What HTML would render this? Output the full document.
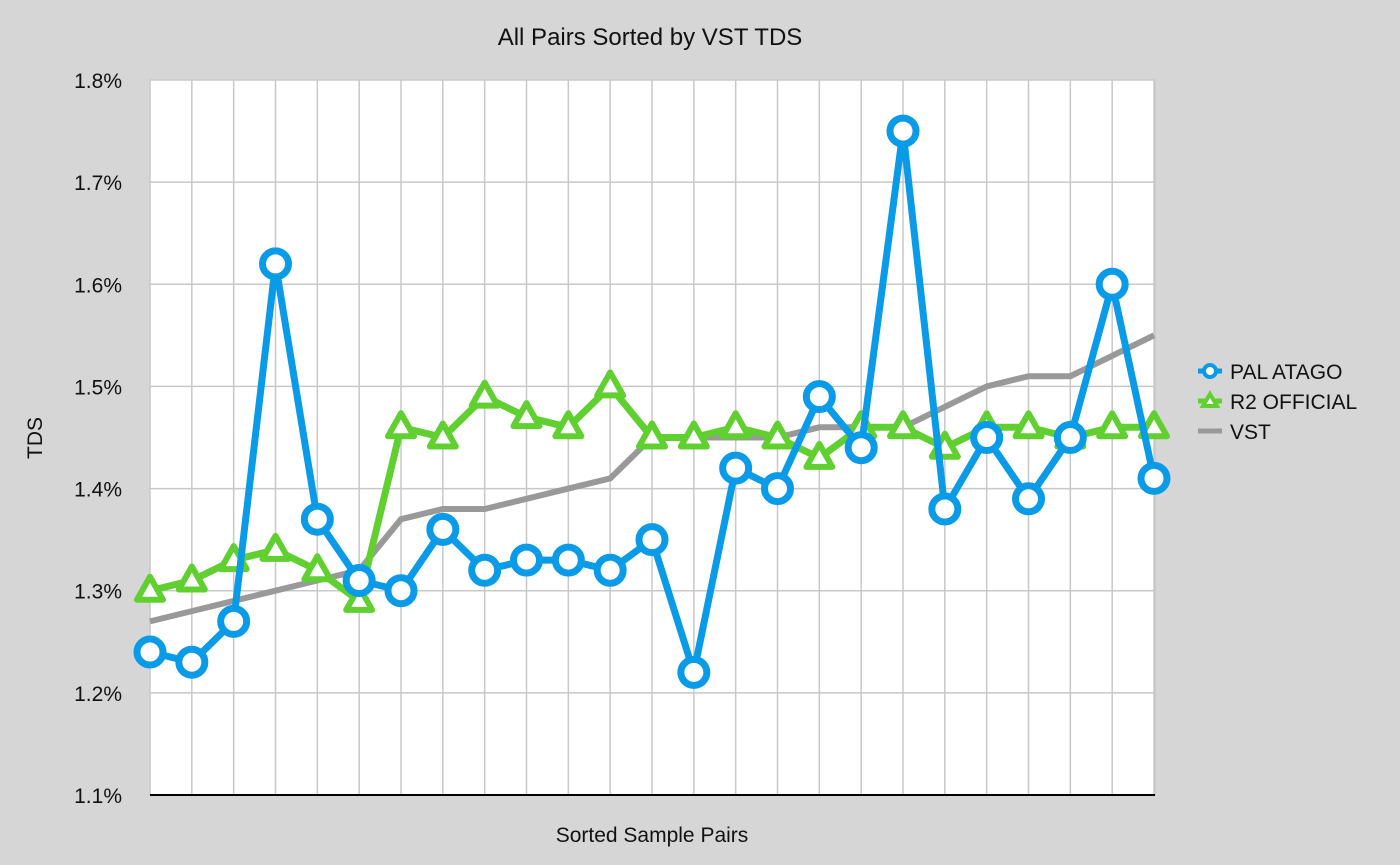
<!DOCTYPE html>
<html><head><meta charset="utf-8"><style>
body{margin:0;background:#d6d6d6;}
svg{display:block;font-family:"Liberation Sans",sans-serif;}
</style></head><body>
<svg id="chart" width="1400" height="865">
<rect width="1400" height="865" fill="#d6d6d6"/>
<text x="650" y="45" font-size="24" text-anchor="middle" fill="#111">All Pairs Sorted by VST TDS</text>
<rect x="150" y="80" width="1005" height="715" fill="#fff"/>
<g id="grid"></g><g id="yt"></g>
<line x1="150" y1="795" x2="1155" y2="795" stroke="#000" stroke-width="2"/>
<g id="series"></g>
<text x="42" y="438" font-size="21" text-anchor="middle" transform="rotate(-90 42 438)" fill="#111">TDS</text>
<text x="652" y="842" font-size="21" text-anchor="middle" fill="#111">Sorted Sample Pairs</text>
<g>
<g><line x1="1198" y1="371" x2="1222" y2="371" stroke="#0a9be8" stroke-width="5"/><circle cx="1210" cy="371" r="6" fill="#fff" stroke="#0a9be8" stroke-width="4"/><text x="1230" y="379" font-size="21" fill="#111">PAL ATAGO</text></g>
<g><line x1="1198" y1="401" x2="1222" y2="401" stroke="#5fd030" stroke-width="5"/><polygon points="1210,394 1217,406 1203,406" fill="#fff" stroke="#5fd030" stroke-width="4"/><text x="1230" y="409" font-size="21" fill="#111">R2 OFFICIAL</text></g>
<g><line x1="1198" y1="431" x2="1222" y2="431" stroke="#999" stroke-width="5"/><text x="1230" y="439" font-size="21" fill="#111">VST</text></g>
</g>
</svg>
<script>
const yTicks=[1.1,1.2,1.3,1.4,1.5,1.6,1.7,1.8];
const pal=[1.24,1.23,1.27,1.62,1.37,1.31,1.30,1.36,1.32,1.33,1.33,1.32,1.35,1.22,1.42,1.40,1.49,1.44,1.75,1.38,1.45,1.39,1.45,1.60,1.41];
const r2=[1.30,1.31,1.33,1.34,1.32,1.29,1.46,1.45,1.49,1.47,1.46,1.50,1.45,1.45,1.46,1.45,1.43,1.46,1.46,1.44,1.46,1.46,1.45,1.46,1.46];
const vst=[1.27,1.28,1.29,1.30,1.31,1.32,1.37,1.38,1.38,1.39,1.40,1.41,1.45,1.45,1.45,1.45,1.46,1.46,1.46,1.48,1.50,1.51,1.51,1.53,1.55];
const NS="http://www.w3.org/2000/svg";
const x0=150,x1=1154,yTop=80,yBot=795;
const n=pal.length;
const xs=i=>x0+i*(x1-x0)/(n-1);
const ys=v=>yBot-(v-1.1)/(0.7)*(yBot-yTop);
function mk(tag,attrs,parent){const e=document.createElementNS(NS,tag);for(const k in attrs)e.setAttribute(k,attrs[k]);document.getElementById(parent).appendChild(e);return e;}
for(let i=0;i<n;i++){const l=mk('line',{x1:xs(i),x2:xs(i),y1:yTop,y2:yBot,stroke:'#c8c8c8','stroke-width':1.5},'grid');

}
mk('line',{x1:1155,x2:1155,y1:yTop,y2:yBot,stroke:'#c8c8c8','stroke-width':1.5},'grid');
yTicks.forEach(t=>{const l=mk('line',{x1:150,x2:1155,y1:ys(t),y2:ys(t),stroke:'#c8c8c8','stroke-width':1.5},'grid');


const tx=mk('text',{x:122,y:ys(t)+8,'font-size':21,'text-anchor':'end',fill:'#111'},'yt');tx.textContent=t.toFixed(1)+'%';

});
function line(arr,color,w,name){const p=mk('polyline',{points:arr.map((v,i)=>xs(i)+','+ys(v)).join(' '),fill:'none',stroke:color,'stroke-width':w,'stroke-linejoin':'miter'},'series');

}
line(vst,'#999',6,'vst-line');
line(r2,'#5fd030',7,'r2-line');
r2.forEach((v,i)=>{const x=xs(i),y=ys(v);const t=mk('polygon',{points:`${x},${y-14} ${x+13},${y+9} ${x-13},${y+9}`,fill:'#fff',stroke:'#5fd030','stroke-width':6,'stroke-linejoin':'round'},'series');

});
line(pal,'#0a9be8',7,'pal-line');
pal.forEach((v,i)=>{const c=mk('circle',{cx:xs(i),cy:ys(v),r:13,fill:'#fff',stroke:'#0a9be8','stroke-width':7},'series');

});
</script>
</body></html>
